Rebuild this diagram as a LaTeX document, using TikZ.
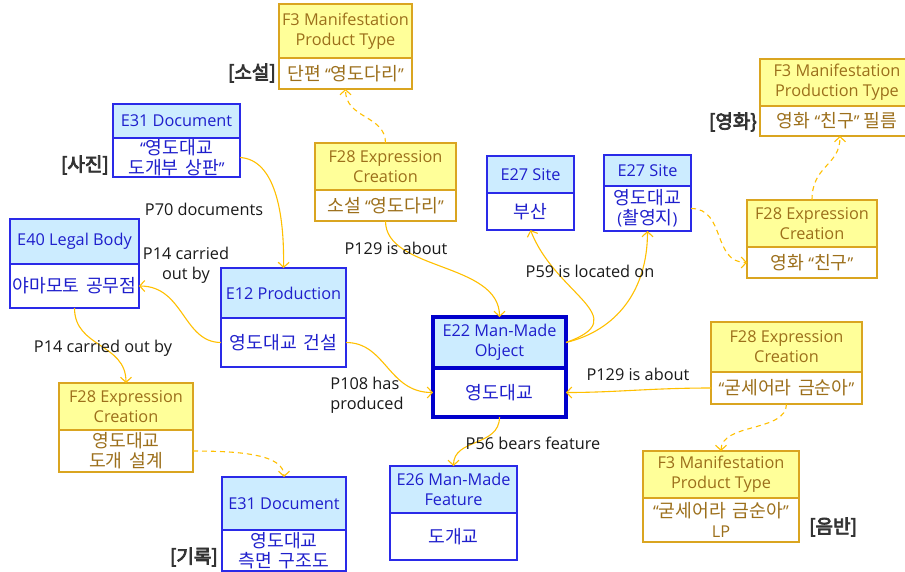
\documentclass[tikz,border=0pt]{standalone}
\usepackage{fontspec}
\setmainfont{Open Sans}
\newfontfamily\kr{Noto Sans CJK KR}[Scale=1.12, WordSpace=1.6]
\newfontfamily\krb{Noto Sans CJK KR}[FakeBold=4]
\usetikzlibrary{arrows.meta}
\definecolor{bblue}{HTML}{2A2AE8}
\definecolor{dblue}{HTML}{0000CC}
\definecolor{bfill}{HTML}{CCECFF}
\definecolor{btext}{HTML}{1F1FCC}
\definecolor{yfill}{HTML}{FFFF99}
\definecolor{yline}{HTML}{DAA520}
\definecolor{ytext}{HTML}{9C6F1B}
\definecolor{corange}{HTML}{FFC000}
\definecolor{labtext}{HTML}{1A1A1A}
\definecolor{tagtext}{HTML}{333333}
\newcommand\fs{\fontsize{16.3}{20}\selectfont}
\newcommand\mkbox[9]{%
  \pgfmathsetmacro\mkW{#5-#3}%
  \pgfmathsetmacro\mkH{#6-#4}%
  \pgfmathsetmacro\mkB{#7-#6}%
  \node[#2head, minimum width=\mkW pt, minimum height=\mkH pt] (#1-h) at ({(#3+#5)/2},{(#4+#6)/2}) {#8};
  \node[#2body, minimum width=\mkW pt, minimum height=\mkB pt] (#1-b) at ({(#3+#5)/2},{(#6+#7)/2}) {#9};
}
\begin{document}
\begin{tikzpicture}[x=1pt,y=-1pt,
  boxbase/.style={inner sep=0pt, outer sep=0pt, align=center, font=\fs, rectangle},
  bhead/.style={boxbase, draw=bblue, line width=1.3pt, fill=bfill, text=btext},
  bbody/.style={boxbase, draw=bblue, line width=1.3pt, fill=white, text=btext},
  thead/.style={boxbase, draw=dblue, line width=3.5pt, fill=bfill, text=btext},
  tbody/.style={boxbase, draw=dblue, line width=3.5pt, fill=white, text=btext},
  yhead/.style={boxbase, draw=yline, line width=1.3pt, fill=yfill, text=ytext},
  ybody/.style={boxbase, draw=yline, line width=1.3pt, fill=white, text=ytext},
  conn/.style={draw=corange, line width=1.1pt, -{Straight Barb[length=5pt,width=11pt]}},
  dconn/.style={conn, dash pattern=on 5pt off 4pt},
  lab/.style={inner sep=0pt, font=\fs, text=labtext, align=center},
  tag/.style={inner sep=0pt, font=\fontsize{19}{22}\selectfont\krb, text=tagtext}]
\useasboundingbox (0,0) rectangle (905,571);
\clip (0,0) rectangle (905,571);
\fill[white] (0,0) rectangle (905,571);

% boxes
\mkbox{f3s}{y}{279}{4}{412}{58}{89}{F3 Manifestation\\Product Type}{{\kr 단편} “{\kr 영도다리}”}
\mkbox{e31p}{b}{113}{104}{240}{138}{177}{E31 Document}{“{\kr 영도대교}\\{\kr 도개부 상판}”}
\mkbox{e40}{b}{10}{219}{139}{264}{308}{E40 Legal Body}{{\kr 야마모토 공무점}}
\mkbox{e12}{b}{221}{268}{346}{318}{367}{E12 Production}{{\kr 영도대교 건설}}
\mkbox{f28s}{y}{315}{143}{456}{190}{221}{F28 Expression\\Creation}{{\kr 소설} “{\kr 영도다리}”}
\mkbox{e27a}{b}{487}{156}{574}{193}{230}{E27 Site}{{\kr 부산}}
\mkbox{e27b}{b}{604}{155}{691}{186}{231}{E27 Site}{{\kr 영도대교}\\({\kr 촬영지})}
\mkbox{f3m}{y}{760}{59}{914}{106}{136}{F3 Manifestation\\Production Type}{{\kr 영화} “{\kr 친구}” {\kr 필름}}
\mkbox{f28f}{y}{747}{200}{877}{247}{278}{F28 Expression\\Creation}{{\kr 영화} “{\kr 친구}”}
\mkbox{e22}{t}{433}{317}{566}{368}{417}{E22 Man-Made\\Object}{{\kr 영도대교}}
\mkbox{f28g}{y}{711}{322}{862}{372}{404}{F28 Expression\\Creation}{“{\kr 굳세어라 금순아}”}
\mkbox{f3g}{y}{643}{451}{799}{498}{542}{F3 Manifestation\\Product Type}{“{\kr 굳세어라 금순아}”\\LP}
\mkbox{e26}{b}{390}{466}{517}{513}{560}{E26 Man-Made\\Feature}{{\kr 도개교}}
\mkbox{f28d}{y}{59}{383}{193}{430}{472}{F28 Expression\\Creation}{{\kr 영도대교}\\{\kr 도개 설계}}
\mkbox{e31k}{b}{222}{477}{346}{530}{571}{E31 Document}{{\kr 영도대교}\\{\kr 측면 구조도}}

% tags
\node[tag, anchor=east] (t1) at (276,73) {[소설]};
\node[tag, anchor=east] (t2) at (109,165) {[사진]};
\node[tag, anchor=east] (t3) at (757,122) {[영화\}};
\node[tag, anchor=west] (t4) at (809,527) {[음반]};
\node[tag, anchor=east] (t5) at (218,557) {[기록]};

% connectors
\draw[dconn] (f28s-h.north) .. controls +(0,-28) and +(0,30) .. (f3s-b.south);
\draw[conn] (e31p-b.east) .. controls +(35,2) and +(1,-55) .. (e12-h.north);
\draw[conn] (e12-b.west) .. controls +(-38,0) and +(45,0) .. (e40-b.east);
\draw[conn] (e40-b.south) .. controls +(0,40) and +(0,-40) .. (f28d-h.north);
\draw[dconn] (f28d-b.east) .. controls +(50,0) and +(0,-22) .. (e31k-h.north);
\draw[conn] (e12-b.east) .. controls +(40,0) and +(-45,0) .. (e22-b.west);
\draw[conn] (f28s-b.south) .. controls +(0,50) and +(0,-55) .. (e22-h.north);
\draw[conn] (e22-h.east) .. controls +(70,-25) and +(25,65) .. (e27a-b.south);
\draw[conn] (e22-h.east) .. controls +(50,-12) and +(0,60) .. (e27b-b.south);
\draw[dconn] (e27b-b.east) .. controls +(35,0) and +(-35,0) .. (f28f-b.west);
\draw[dconn] (f28f-h.north) .. controls +(0,-35) and +(0,30) .. ([xshift=3pt]f3m-b.south);
\draw[conn] (f28g-b.west) .. controls +(-60,0) and +(50,0) .. (e22-b.east);
\draw[dconn] (f28g-b.south) .. controls +(0,28) and +(0,-28) .. (f3g-h.north);
\draw[conn] (e22-b.south) .. controls +(0,30) and +(0,-28) .. (e26-h.north);

% edge labels
\node[lab] (l1) at (204,209) {P70 documents};
\node[lab] (l2) at (186,265) {P14 carried\\out by};
\node[lab] (l3) at (103,348) {P14 carried out by};
\node[lab, align=left] (l4) at (367,395) {P108 has\\produced};
\node[lab] (l5) at (396,248) {P129 is about};
\node[lab] (l6) at (590,271) {P59 is located on};
\node[lab] (l7) at (638,374) {P129 is about};
\node[lab] (l8) at (533,443) {P56 bears feature};
\end{tikzpicture}
\end{document}
